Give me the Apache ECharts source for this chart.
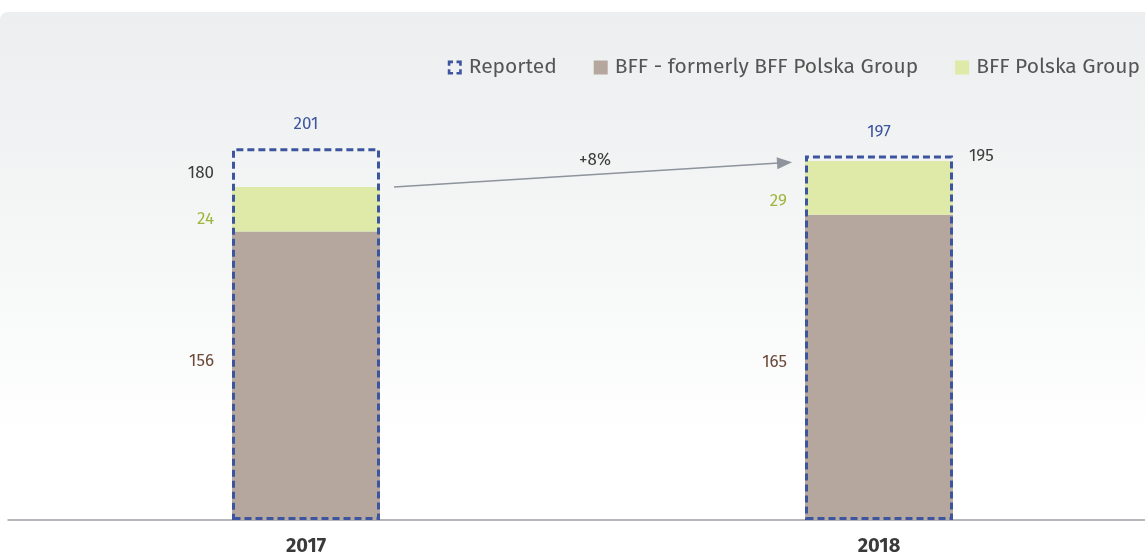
<!DOCTYPE html>
<html>
<head>
<meta charset="utf-8">
<script src="https://cdn.jsdelivr.net/npm/echarts@6/dist/echarts.min.js"></script>
<style>
html,body{margin:0;padding:0;background:#fff;}
#main{width:1145px;height:558px;}
</style>
</head>
<body>
<div id="main"></div>
<script>
var categories = ['2017', '2018'];
var formerlyGroup = [156, 165];     // BFF - formerly BFF Polska Group
var polskaGroup = [24, 29];         // BFF Polska Group
var totals = [180, 195];
var reported = [201, 197];
var growthLabel = '+8%';

var FONT = "'Fira Sans', 'Noto Sans', 'Open Sans', sans-serif";
var BLUE = '#3d559e', BROWN = '#b6a79e', GREEN = '#dfe9a8';
var BW = 148;

var chart = echarts.init(document.getElementById('main'));

var option = {
  animation: false,
  textStyle: {fontFamily: FONT},
  grid: [
    {left: 19.5, width: 1146, top: 57.5, bottom: 38, outerBoundsMode: 'none', containLabel: false},
    {left: 8, right: 0, top: 57.5, bottom: 38, outerBoundsMode: 'none', containLabel: false}
  ],
  legend: {
    right: 0, top: 52,
    itemWidth: 14, itemHeight: 14, itemGap: 37,
    textStyle: {color: '#555', fontSize: 21, fontFamily: FONT, padding: [0, 0, 0, 2]},
    data: [
      {name: 'Reported',
       icon: 'path://M0,0H6V3H3V6H0Z M10,0H16V6H13V3H10Z M0,10H3V13H6V16H0Z M13,10H16V16H10V13H13Z',
       itemStyle: {color: BLUE, borderWidth: 0}},
      {name: 'BFF - formerly BFF Polska Group', icon: 'rect'},
      {name: 'BFF Polska Group', icon: 'rect'}
    ]
  },
  xAxis: [
    {type: 'category', data: categories, gridIndex: 0,
     axisLine: {show: false}, axisTick: {show: false},
     axisLabel: {margin: 16, color: '#3a3a3a', fontSize: 20, fontWeight: 'bold', fontFamily: FONT}},
    {type: 'value', gridIndex: 1, min: 0, max: 1,
     axisLine: {show: true, onZero: false, lineStyle: {color: '#9aa0a7', width: 1.5}},
     axisTick: {show: false}, axisLabel: {show: false}, splitLine: {show: false}}
  ],
  yAxis: [
    {type: 'value', gridIndex: 0, min: 0, max: 250, show: false},
    {type: 'value', gridIndex: 1, min: 0, max: 1, show: false}
  ],
  series: [
    {name: 'BFF - formerly BFF Polska Group', type: 'bar', stack: 'a', barWidth: BW, barGap: '-100%',
     itemStyle: {color: BROWN},
     data: formerlyGroup.map(function (v, i) {
       return {value: v, label: {offset: [0, i === 0 ? -14 : -5]}};
     }),
     label: {show: true, position: 'left', distance: 18, color: '#6b4a3a', fontSize: 17, fontFamily: FONT}},
    {name: 'BFF Polska Group', type: 'bar', stack: 'a', barWidth: BW, barGap: '-100%',
     itemStyle: {color: GREEN},
     data: polskaGroup.map(function (v, i) {
       return {value: v, label: {offset: [0, i === 0 ? 10 : 13]}};
     }),
     label: {show: true, position: 'left', distance: 18, color: '#9cb83c', fontSize: 17, fontFamily: FONT}},
    {name: 'Total', type: 'bar', barWidth: BW, barGap: '-100%',
     itemStyle: {color: 'rgba(0,0,0,0)'},
     data: totals.map(function (v, i) {
       return {value: v, label: i === 0
         ? {position: [-18, -14], align: 'right', verticalAlign: 'middle'}
         : {position: [BW + 16, -3], align: 'left', verticalAlign: 'middle'}};
     }),
     label: {show: true, color: '#3c3c3c', fontSize: 17, fontFamily: FONT}},
    {name: 'Reported', type: 'bar', barWidth: BW, barGap: '-100%', z: 5,
     itemStyle: {color: 'rgba(0,0,0,0)', borderColor: BLUE, borderWidth: 3, borderType: [7, 4]},
     data: reported,
     label: {show: true, position: 'top', distance: 15, color: BLUE, fontSize: 17, fontFamily: FONT}}
  ]
};
chart.setOption(option);

// background panel + growth arrow (positions from the chart's own scales)
var p1 = chart.convertToPixel({seriesIndex: 1}, [0, totals[0]]);
var p2 = chart.convertToPixel({seriesIndex: 1}, [1, totals[1]]);
var x1 = p1[0] + BW / 2 + 14, y1 = p1[1];
var x2 = p2[0] - BW / 2 - 13, y2 = p2[1] + 3;
var dx = x2 - x1, dy = y2 - y1, len = Math.sqrt(dx * dx + dy * dy);
var ux = dx / len, uy = dy / len, hl = 15, hw = 6;
var bx = x2 - ux * hl, by = y2 - uy * hl;
chart.setOption({
  graphic: {elements: [
    {type: 'rect', z: -100, silent: true,
     shape: {x: 0, y: 12, width: 1145, height: 546, r: [8, 0, 0, 0]},
     style: {fill: new echarts.graphic.LinearGradient(0, 0, 0, 1, [
       {offset: 0, color: '#eceeef'}, {offset: 0.45, color: '#f6f7f7'}, {offset: 0.78, color: '#ffffff'}])}},
    {type: 'line', z: 10, silent: true,
     shape: {x1: x1, y1: y1, x2: bx + ux * 2, y2: by + uy * 2},
     style: {stroke: '#8d949b', lineWidth: 1.5}},
    {type: 'polygon', z: 10, silent: true,
     shape: {points: [[x2, y2], [bx - uy * hw, by + ux * hw], [bx + uy * hw, by - ux * hw]]},
     style: {fill: '#8d949b'}},
    {type: 'text', z: 10, silent: true,
     x: (x1 + x2) / 2 + 2, y: (y1 + y2) / 2 - 14,
     style: {text: growthLabel, fill: '#3c3c3c', font: '17px ' + FONT, align: 'center', verticalAlign: 'middle'}}
  ]}
});
</script>
</body>
</html>
